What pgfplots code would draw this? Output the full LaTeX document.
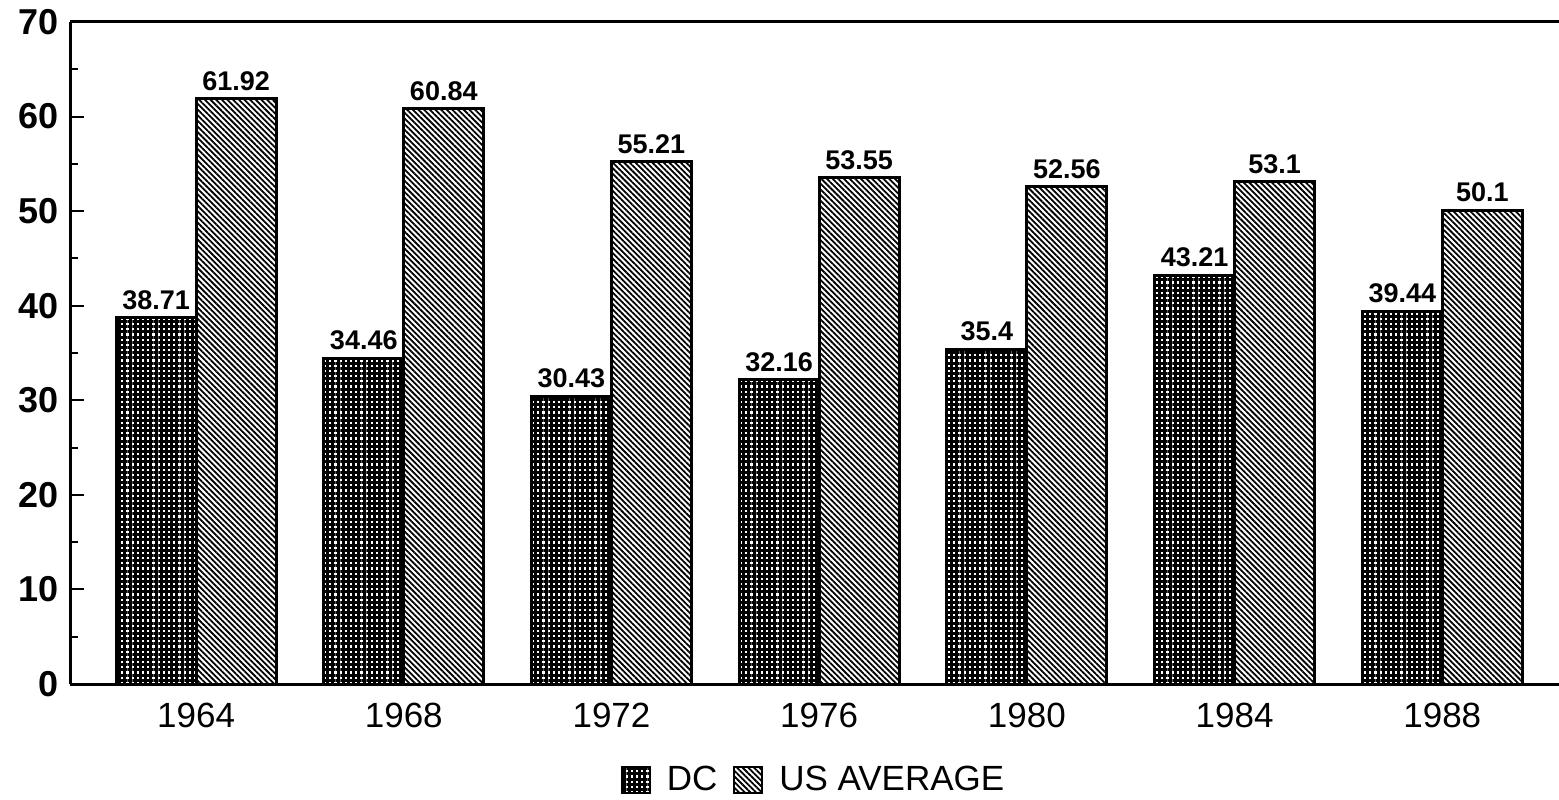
\documentclass[border=0pt]{standalone}
\usepackage{fontspec}
\setmainfont{Liberation Sans}
\usepackage{pgfplots}
\pgfplotsset{compat=1.18}
\usetikzlibrary{patterns.meta}
\begin{document}
\begin{tikzpicture}
\begin{axis}[
  at={(0,0)}, anchor=south west,
  scale only axis,
  width=744.5bp, height=331bp,
  ybar=0pt, bar width=40bp,
  xmin=-0.607, xmax=6.562,
  ymin=0, ymax=70,
  axis lines*=left,
  axis line style={line width=1.5bp},
  separate axis lines,
  x axis line style={-},
  y axis line style={-},
  xtick={0,1,2,3,4,5,6},
  xticklabels={1964,1968,1972,1976,1980,1984,1988},
  xtick style={draw=none},
  ytick={0,10,...,70},
  minor ytick={5,15,...,65},
  tick align=inside,
  major tick length=7bp,
  minor tick length=4bp,
  ytick style={line width=1bp, black},
  yticklabel style={font=\bfseries\fontsize{18bp}{20bp}\selectfont, xshift=-2bp},
  xticklabel style={font=\fontsize{17.5bp}{19bp}\selectfont, yshift=-6bp},
  /pgf/number format/assume math mode=true,
  nodes near coords,
  every node near coord/.append style={font=\bfseries\fontsize{13.5bp}{15bp}\selectfont, black},
  legend style={at={(0.5,-0.145)}, anchor=center, draw=none, legend columns=-1,
    font=\fontsize{17.5bp}{19bp}\selectfont,
    /tikz/every odd column/.append style={column sep=6bp},
    /tikz/every even column/.append style={column sep=6bp}},
  legend image code/.code={\draw[#1,line width=1bp] (0bp,-6.5bp) rectangle (14bp,6.5bp);},
  clip=false,
]
\addplot[draw=black, line width=1.5bp, pattern={Hatch[angle=0,distance=2.6bp,line width=1.5bp]}, pattern color=black]
  coordinates {(0,38.71) (1,34.46) (2,30.43) (3,32.16) (4,35.4) (5,43.21) (6,39.44)};
\addplot[draw=black, line width=1.5bp, pattern={Lines[angle=-45,distance=2bp,line width=0.9bp]}, pattern color=black]
  coordinates {(0,61.92) (1,60.84) (2,55.21) (3,53.55) (4,52.56) (5,53.1) (6,50.1)};
\legend{DC, US AVERAGE}
\draw[line width=1.5bp] (rel axis cs:0,1) -- (rel axis cs:1,1);
\end{axis}
\pgfresetboundingbox
\path (-35bp,-58bp) rectangle (744.5bp,342bp);
\end{tikzpicture}
\end{document}
